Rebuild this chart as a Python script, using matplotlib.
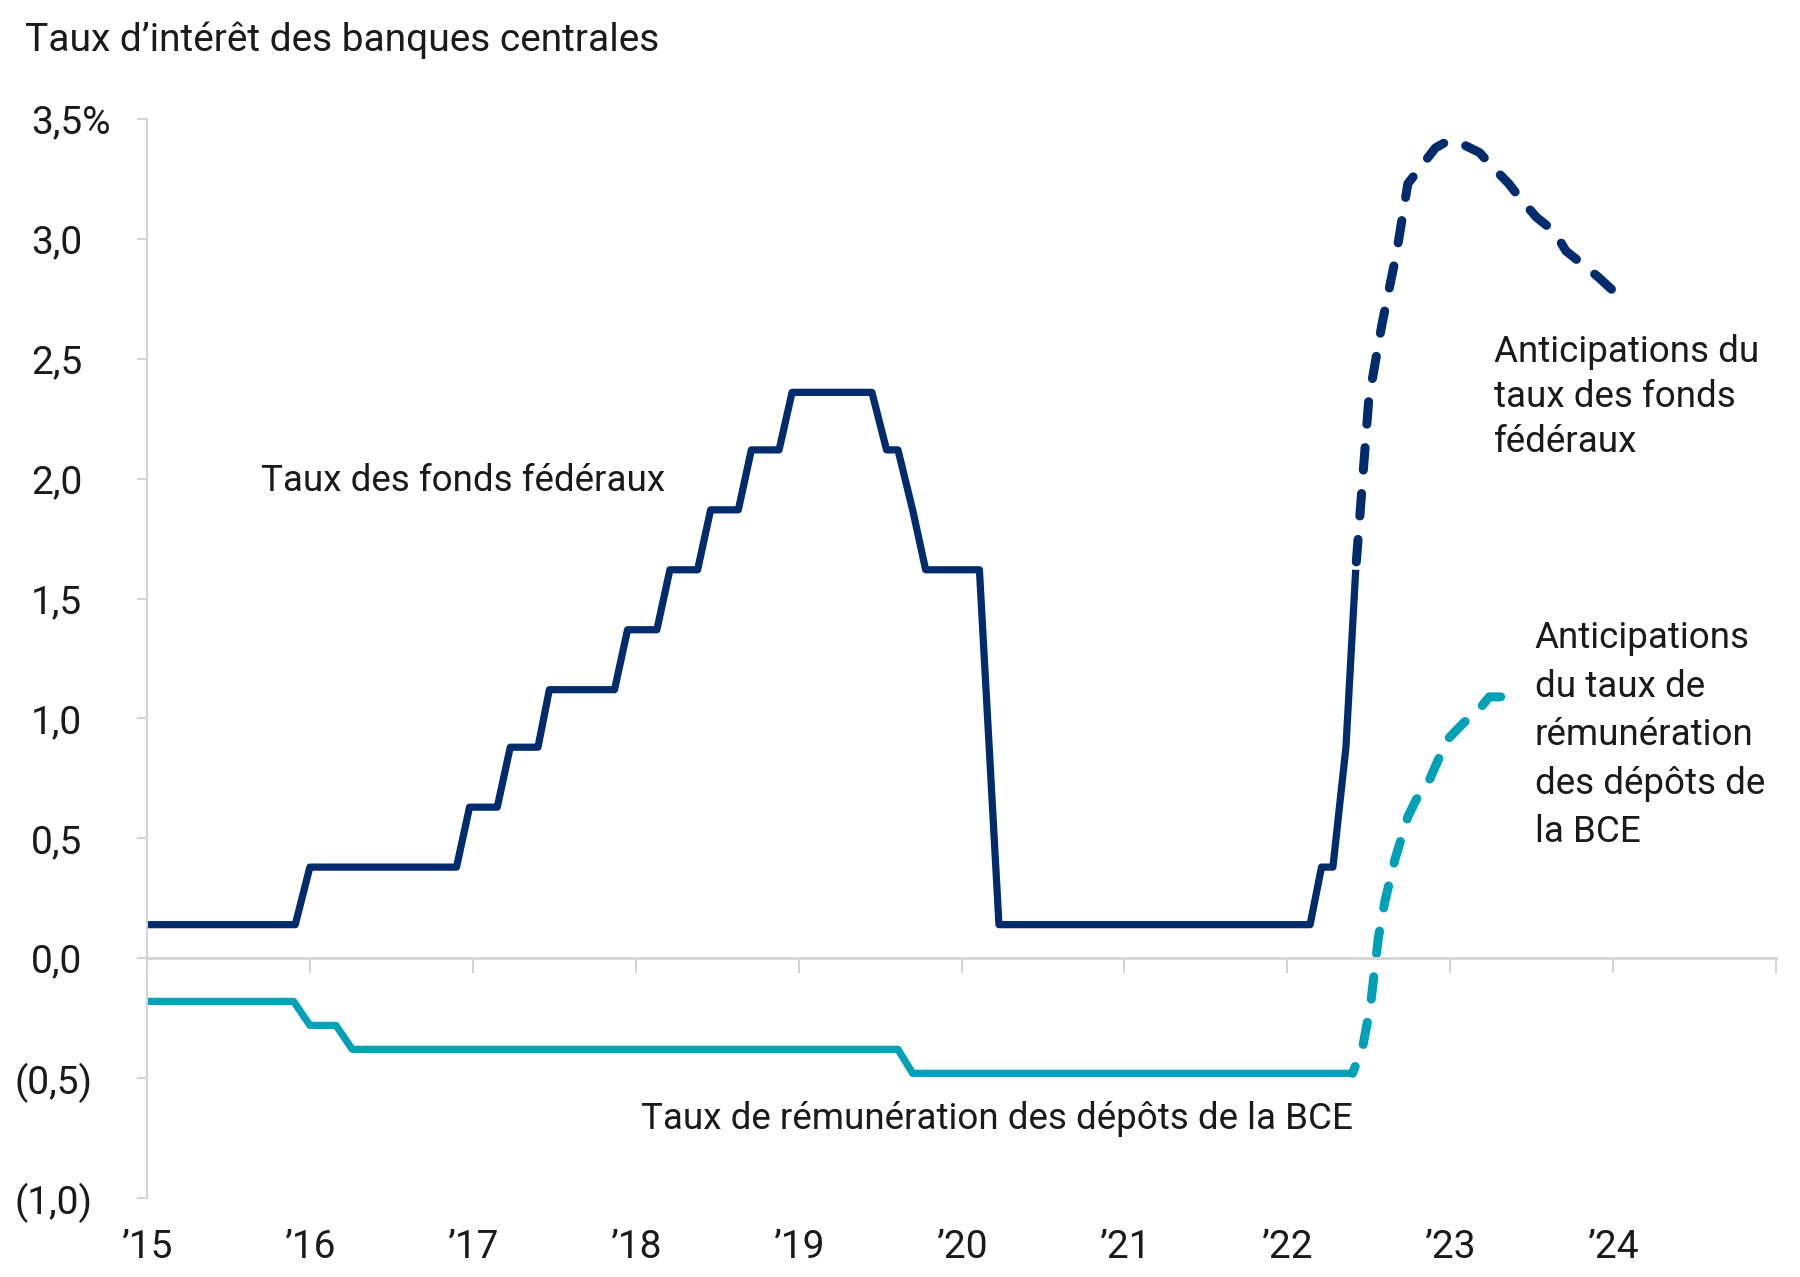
import numpy as np
import matplotlib.pyplot as plt
from matplotlib.transforms import ScaledTranslation

# Fed funds (solid, monthly path)
fed_dates = [2015.00, 2015.91, 2016.00, 2016.90, 2016.98, 2017.15, 2017.23, 2017.40,
             2017.47, 2017.87, 2017.95, 2018.13, 2018.21, 2018.38, 2018.46, 2018.63,
             2018.71, 2018.88, 2018.96, 2019.45, 2019.54, 2019.61, 2019.70, 2019.78,
             2020.11, 2020.23, 2022.14, 2022.21, 2022.28, 2022.36, 2022.42]
fed_rate = [0.14, 0.14, 0.38, 0.38, 0.63, 0.63, 0.88, 0.88,
            1.12, 1.12, 1.37, 1.37, 1.62, 1.62, 1.87, 1.87,
            2.12, 2.12, 2.36, 2.36, 2.12, 2.12, 1.87, 1.62,
            1.62, 0.14, 0.14, 0.38, 0.38, 0.88, 1.62]

# Fed funds expectations (dashed)
fed_exp_dates = [2022.42, 2022.50, 2022.58, 2022.67, 2022.74, 2022.83, 2022.91, 2022.99,
                 2023.06, 2023.18, 2023.26, 2023.36, 2023.44, 2023.53, 2023.64, 2023.71,
                 2023.82, 2023.91, 2023.99]
fed_exp = [1.62, 2.33, 2.64, 2.94, 3.23, 3.31, 3.38, 3.41,
           3.40, 3.36, 3.30, 3.23, 3.16, 3.09, 3.03, 2.95,
           2.89, 2.84, 2.79]

# ECB deposit rate (solid)
ecb_dates = [2015.00, 2015.90, 2016.00, 2016.16, 2016.26, 2019.61, 2019.70, 2022.40]
ecb_rate = [-0.18, -0.18, -0.28, -0.28, -0.38, -0.38, -0.48, -0.48]

# ECB expectations (dashed)
ecb_exp_dates = [2022.40, 2022.46, 2022.51, 2022.56, 2022.60, 2022.66, 2022.74, 2022.79,
                 2022.87, 2022.98, 2023.08, 2023.18, 2023.24, 2023.31]
ecb_exp = [-0.48, -0.38, -0.20, 0.09, 0.24, 0.41, 0.59, 0.66,
           0.74, 0.91, 0.98, 1.04, 1.09, 1.09]

year_ticks = list(range(2015, 2025))
year_labels = ['\u2019' + str(y)[2:] for y in year_ticks]
y_ticks = [3.5, 3.0, 2.5, 2.0, 1.5, 1.0, 0.5, 0.0, -0.5, -1.0]
y_labels = ['3,5%', '3,0', '2,5', '2,0', '1,5', '1,0', '0,5', '0,0', '(0,5)', '(1,0)']

navy = '#002B6D'
teal = '#00A0B6'
grid_grey = '#D4D4D4'
txt = '#1A1A1A'

plt.rcParams['font.family'] = ['Roboto', 'DejaVu Sans']

fig = plt.figure(figsize=(18, 12.77), dpi=100)
ax = fig.add_axes([147 / 1800, 79 / 1277, (1776 - 147) / 1800, (1198 - 119) / 1277])

ax.plot(fed_dates, fed_rate, color=navy, lw=5.2, solid_joinstyle='round', solid_capstyle='butt')
ax.plot(ecb_dates, ecb_rate, color=teal, lw=5.2, solid_joinstyle='round', solid_capstyle='butt')
# dashed paths drawn from their far end so the last point always gets a dash
ax.plot(fed_exp_dates[::-1], fed_exp[::-1], color=navy, lw=6.5, dashes=(2.5, 2.6),
        dash_capstyle='round')
ax.plot(ecb_exp_dates[::-1], ecb_exp[::-1], color=teal, lw=6.5, dashes=(2.5, 2.6),
        dash_capstyle='round')

ax.set_xlim(2015, 2025)
ax.set_ylim(-1.0, 3.5)

for s in ['top', 'right']:
    ax.spines[s].set_visible(False)
ax.spines['left'].set_color(grid_grey)
ax.spines['left'].set_linewidth(1.5)
ax.spines['bottom'].set_position(('data', 0))
ax.spines['bottom'].set_color(grid_grey)
ax.spines['bottom'].set_linewidth(2)

ax.set_xticks(year_ticks + [2025])
ax.tick_params(axis='x', direction='out', length=11, width=1.5, color=grid_grey, labelbottom=False)

ax.set_yticks(y_ticks)
ax.set_yticklabels(y_labels)
ax.tick_params(axis='y', direction='out', length=7, width=1.5, color=grid_grey,
               labelsize=28, labelcolor=txt, pad=76.5)
for lab, v in zip(ax.get_yticklabels(), y_ticks):
    lab.set_horizontalalignment('left')
    if v < 0:
        lab.set_transform(lab.get_transform() + ScaledTranslation(-17 / 100, 0, fig.dpi_scale_trans))

# year labels along the bottom edge
sec = ax.secondary_xaxis('bottom')
sec.set_xticks(year_ticks)
sec.set_xticklabels(year_labels)
sec.tick_params(length=0, labelsize=28, labelcolor=txt, pad=22)
sec.spines['bottom'].set_visible(False)

fs = 26.5
ax.text(2015.70, 1.99, 'Taux des fonds fédéraux', fontsize=fs, color=txt, va='center', ha='left')
ax.text(2018.03, -0.67, 'Taux de rémunération des dépôts de la BCE', fontsize=fs, color=txt,
        va='center', ha='left')
ax.text(2023.27, 2.34, 'Anticipations du\ntaux des fonds\nfédéraux', fontsize=fs, color=txt,
        va='center', ha='left', linespacing=1.32)
ax.text(2023.52, 0.93, 'Anticipations\ndu taux de\nrémunération\ndes dépôts de\nla BCE', fontsize=fs,
        color=txt, va='center', ha='left', linespacing=1.45)

fig.text(25 / 1800, 1 - 40 / 1277, 'Taux d\u2019intérêt des banques centrales', fontsize=28,
         color=txt, va='center', ha='left')

fig.savefig('out.png', dpi=100, facecolor='white')
